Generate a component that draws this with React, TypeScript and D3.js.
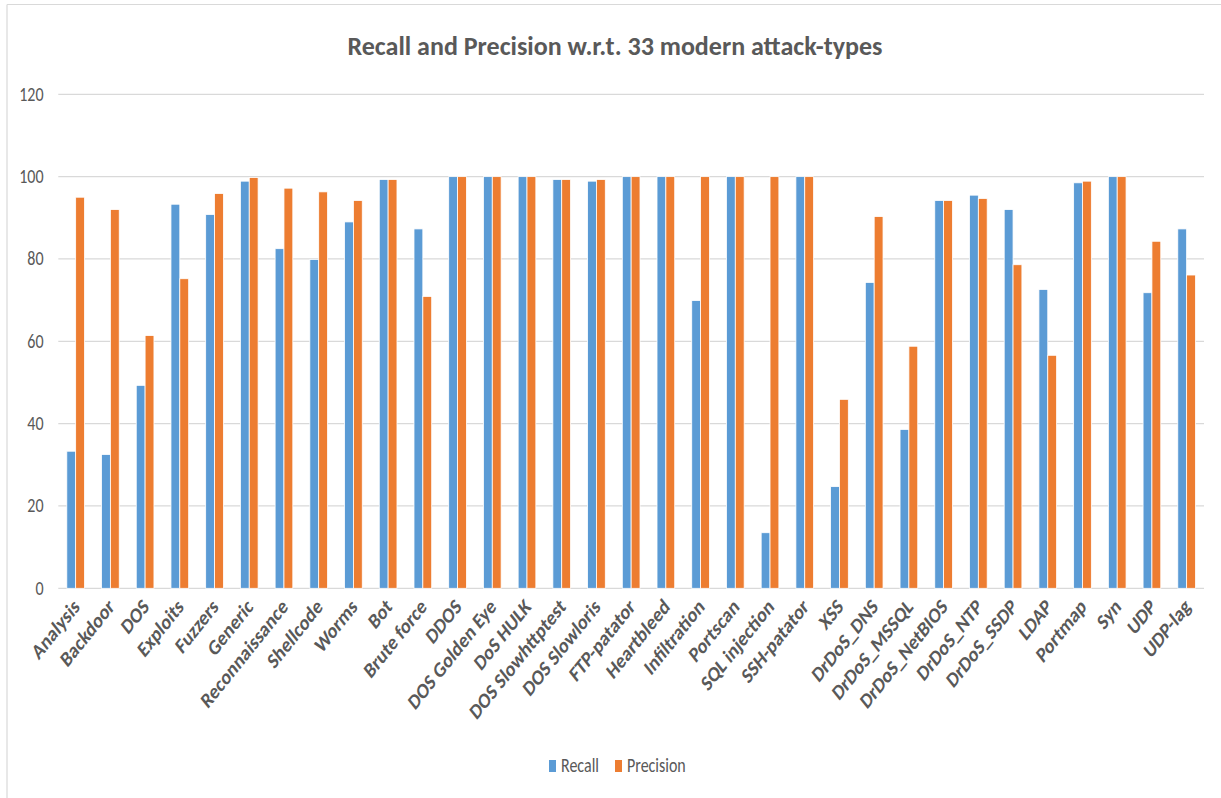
import React from "react";
import * as d3 from "d3";

const categories = [
  "Analysis", "Backdoor", "DOS", "Exploits", "Fuzzers", "Generic", "Reconnaissance",
  "Shellcode", "Worms", "Bot", "Brute force", "DDOS", "DOS Golden Eye", "DoS HULK",
  "DOS Slowhttptest", "DOS Slowloris", "FTP-patator", "Heartbleed", "Infiltration",
  "Portscan", "SQL injection", "SSH-patator", "XSS", "DrDoS_DNS", "DrDoS_MSSQL",
  "DrDoS_NetBIOS", "DrDoS_NTP", "DrDoS_SSDP", "LDAP", "Portmap", "Syn", "UDP", "UDP-lag",
];

const recall = [
  33.3, 32.5, 49.3, 93.3, 90.8, 98.9, 82.5, 79.9, 89.0, 99.3, 87.3, 100, 100, 100,
  99.3, 98.9, 100, 100, 69.9, 100, 13.5, 100, 24.7, 74.3, 38.6, 94.2, 95.5, 92.0,
  72.6, 98.5, 100, 71.8, 87.3,
];

const precision = [
  95.0, 92.0, 61.4, 75.2, 95.9, 99.8, 97.2, 96.3, 94.2, 99.3, 70.9, 100, 100, 100,
  99.3, 99.3, 100, 100, 100, 100, 100, 100, 45.9, 90.3, 58.8, 94.2, 94.7, 78.6,
  56.6, 98.9, 100, 84.3, 76.1,
];

const seriesNames = ["Recall", "Precision"];
const seriesColors = ["#5B9BD5", "#ED7D31"];
const yTicks = [0, 20, 40, 60, 80, 100, 120];
const title = "Recall and Precision w.r.t. 33 modern attack-types";

const W = 1221;
const H = 798;
const FONT = "Carlito, Lato, 'Open Sans', sans-serif";
const TEXT = "#595959";
const SY = 1.25; // vertical stretch seen in the reference text

export default function App() {
  const x = d3
    .scaleBand<string>()
    .domain(categories)
    .range([58.3, 1204])
    .paddingInner(0.49)
    .paddingOuter(0.245);
  const inner = d3
    .scaleBand<string>()
    .domain(seriesNames)
    .range([0, x.bandwidth()]);
  const y = d3.scaleLinear().domain([0, 120]).range([588.3, 94.3]);
  const values = [recall, precision];

  return (
    <svg
      width={W}
      height={H}
      style={{ position: "absolute", left: 0, top: 0, background: "#fff" }}
      fontFamily={FONT}
    >
      <rect x={0} y={0} width={W} height={H} fill="#fff" />
      {/* chart frame */}
      <line x1={7} y1={4.5} x2={W} y2={4.5} stroke="#D9D9D9" strokeWidth={1.2} />
      <line x1={7} y1={4.5} x2={7} y2={H} stroke="#D9D9D9" strokeWidth={1.2} />

      {/* title */}
      <g transform={`translate(615,55) scale(1,1.1)`}>
        <text
          textAnchor="middle"
          fontSize={23}
          fontWeight="bold"
          fill={TEXT}
          textLength={535}
          lengthAdjust="spacingAndGlyphs"
        >
          {title}
        </text>
      </g>

      {/* gridlines and y ticks */}
      {yTicks.map((t) => (
        <g key={t}>
          <line
            x1={58.3}
            x2={1204}
            y1={y(t)}
            y2={y(t)}
            stroke="#D9D9D9"
            strokeWidth={1.2}
          />
          <g transform={`translate(43.5,${y(t) + 6.5}) scale(1,1.3)`}>
            <text textAnchor="end" fontSize={16} fill={TEXT}>
              {t}
            </text>
          </g>
        </g>
      ))}

      {/* bars */}
      {categories.map((c, i) => (
        <g key={c} transform={`translate(${x(c)},0)`}>
          {seriesNames.map((s, j) => (
            <rect
              key={s}
              x={inner(s)}
              y={y(values[j][i])}
              width={inner.bandwidth()}
              height={y(0) - y(values[j][i])}
              fill={seriesColors[j]}
              stroke="#fff"
              strokeWidth={0.8}
            />
          ))}
        </g>
      ))}

      {/* x labels */}
      {categories.map((c) => {
        const cx = (x(c) as number) + x.bandwidth() / 2;
        return (
          <g key={c} transform={`translate(${cx + 5},608) scale(1,${SY}) rotate(-45)`}>
            <text textAnchor="end" fontSize={17.5} fontWeight="bold" fill={TEXT}>
              {c}
            </text>
          </g>
        );
      })}

      {/* legend */}
      {seriesNames.map((s, j) => {
        const lx = [549, 615][j];
        return (
          <g key={s}>
            <rect x={lx} y={760} width={7} height={12} fill={seriesColors[j]} />
            <g transform={`translate(${lx + 12},772) scale(1,1.3)`}>
              <text fontSize={16} fill={TEXT}>
                {s}
              </text>
            </g>
          </g>
        );
      })}
    </svg>
  );
}
